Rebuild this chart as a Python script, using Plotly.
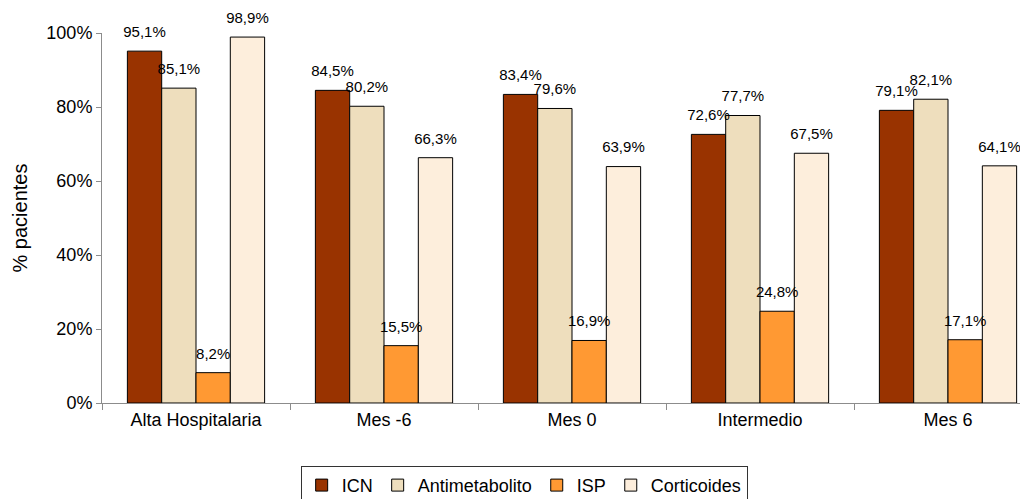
import plotly.graph_objects as go

categories = ["Alta Hospitalaria", "Mes -6", "Mes 0", "Intermedio", "Mes 6"]
series_names = ["ICN", "Antimetabolito", "ISP", "Corticoides"]
icn = [95.1, 84.5, 83.4, 72.6, 79.1]
antimetabolito = [85.1, 80.2, 79.6, 77.7, 82.1]
isp = [8.2, 15.5, 16.9, 24.8, 17.1]
corticoides = [98.9, 66.3, 63.9, 67.5, 64.1]
colors = ["#993300", "#EEDEBD", "#FF9933", "#FDEEDC"]
y_ticks = [0, 20, 40, 60, 80, 100]
y_ticktext = [f"{v}%" for v in y_ticks]

FONT = "Liberation Sans, Arial, Helvetica, sans-serif"
GAP = 0.27

fig = go.Figure()
all_vals = [icn, antimetabolito, isp, corticoides]
for name, vals, col in zip(series_names, all_vals, colors):
    fig.add_trace(go.Bar(
        name=name, x=categories, y=vals,
        marker=dict(color=col, line=dict(color="black", width=1)),
        hoverinfo="x+y+name",
    ))
# value labels, grouped to sit over each bar
for name, vals in zip(series_names, all_vals):
    fig.add_trace(go.Scatter(
        x=categories, y=vals, mode="markers+text",
        text=[f"{v:.1f}%".replace(".", ",") for v in vals],
        textposition="top center",
        textfont=dict(size=15, color="black", family=FONT),
        marker=dict(size=15, opacity=0),
        showlegend=False, hoverinfo="skip", cliponaxis=False,
        name=name + " label",
    ))

fig.update_layout(
    template="none",
    width=1028, height=499,
    barmode="group", bargap=GAP, bargroupgap=0,
    scattermode="group", scattergap=GAP,
    separators=",.",
    plot_bgcolor="white", paper_bgcolor="white",
    margin=dict(l=94, r=0, t=25, b=104, autoexpand=False),
    font=dict(family=FONT, size=18, color="black"),
    xaxis=dict(
        type="category", range=[-0.5, 4.468], automargin=False,
        showline=True, linecolor="#8c8c8c", linewidth=1,
        ticks="outside", tickson="boundaries", ticklen=6, tickcolor="#8c8c8c",
        tickfont=dict(size=18), showgrid=False, zeroline=False,
    ),
    yaxis=dict(
        range=[0, 100], tickvals=y_ticks, ticktext=y_ticktext, automargin=False,
        showline=True, linecolor="#8c8c8c", linewidth=1,
        ticks="outside", ticklen=5, tickcolor="#8c8c8c",
        tickfont=dict(size=18), showgrid=False, zeroline=False,
        title=dict(text="% pacientes", font=dict(size=20), standoff=13),
    ),
    showlegend=True,
    legend=dict(
        orientation="h", x=0.452, xanchor="center", y=-0.17, yanchor="top",
        bordercolor="#333333", borderwidth=1, font=dict(size=18),
        traceorder="normal", bgcolor="white",
    ),
)

fig.write_html("out.html")
